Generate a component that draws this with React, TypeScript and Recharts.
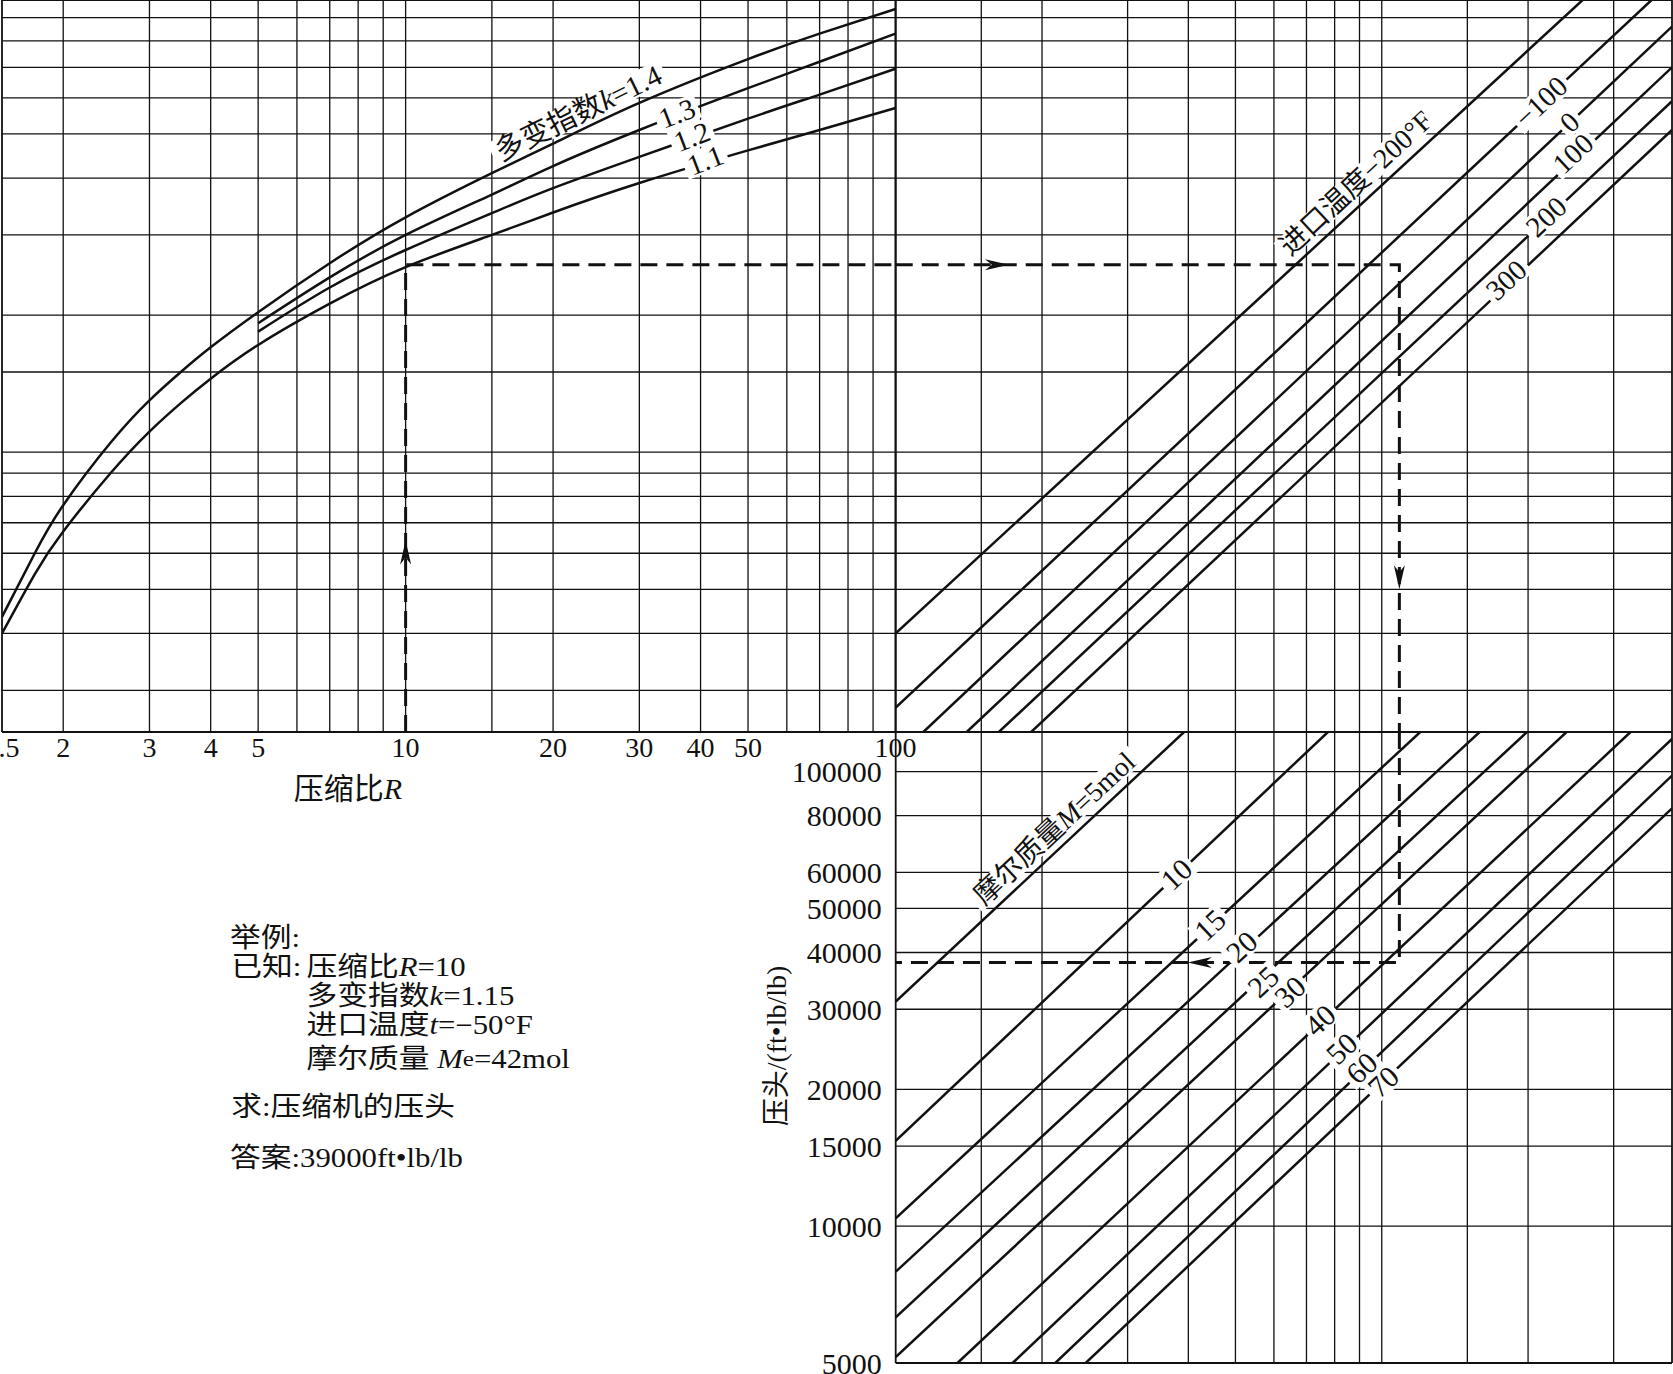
import React from "react";
import { ComposedChart, Line, XAxis, YAxis, ReferenceLine, ReferenceDot } from "recharts";

const W = 1673;
const H = 1374;
const FONT = '"Liberation Serif", "Noto Sans CJK SC", serif';
const INK = "#111";

// compression ratio axis (upper left)
const ratioDomain = [1.5, 100];
const ratioTicks = [1.5, 2, 3, 4, 5, 10, 20, 30, 40, 50, 100];
const ratioGrid = [2, 3, 4, 5, 6, 7, 8, 9, 10, 15, 20, 30, 40, 50, 60, 70, 80, 90];
// unlabelled intermediate scale shared by both upper panels
const midDomain = [0.243, 9.84];
const midGrid = [0.3, 0.4, 0.5, 0.6, 0.7, 0.8, 0.9, 1, 1.5, 2, 3, 4, 5, 6, 7, 8, 9];
// unlabelled scale shared by the two right panels
const auxDomain = [100, 3955];
const auxGrid = [150, 200, 300, 400, 500, 600, 700, 800, 900, 1000, 1500, 2000, 3000];
// head axis (lower right)
const headDomain = [5000, 122200];
const headTicks = [5000, 10000, 15000, 20000, 30000, 40000, 50000, 60000, 80000, 100000];
const headGrid = [10000, 15000, 20000, 30000, 40000, 50000, 60000, 80000, 100000];

// polytropic exponent curves, read at these ratios
const kRatio = [1.5, 1.75, 2, 2.5, 3, 3.5, 4, 5, 7, 10, 15, 20, 30, 50, 70, 100];
const k14 = [0.435, 0.6, 0.765, 1.05, 1.3, 1.51, 1.7, 2.03, 2.6, 3.28, 4.1, 4.76, 5.85, 7.3, 8.3, 9.4];
const k13 = [null, null, null, null, null, null, null, 1.92, 2.42, 3.0, 3.68, 4.25, 5.1, 6.3, 7.2, 8.3];
const k12 = [null, null, null, null, null, null, null, 1.84, 2.3, 2.78, 3.35, 3.8, 4.45, 5.4, 6.1, 6.95];
const k11 = [0.4, 0.54, 0.67, 0.9, 1.11, 1.29, 1.45, 1.72, 2.12, 2.55, 3.0, 3.36, 3.9, 4.6, 5.1, 5.7];
const kRows = kRatio.map((x, i) => ({ x, k14: k14[i], k13: k13[i], k12: k12[i], k11: k11[i] }));

// inlet temperature lines (°F), end points
const tempNames = ["−200", "−100", "0", "100", "200", "300"];
const tempFromAux = [100, 100, 114, 140, 163, 190];
const tempFromMid = [0.4, 0.275, 0.243, 0.243, 0.243, 0.243];
const tempToAux = [2590, 3590, 3955, 3955, 3955, 3955];
const tempToMid = [9.84, 9.84, 8.6, 7.0, 5.9, 5.1];

// molar mass lines, end points
const molMass = [5, 10, 15, 20, 25, 30, 40, 50, 60, 70];
const molFromAux = [100, 100, 100, 100, 100, 100, 134, 174, 213, 246];
const molFromHead = [31200, 15400, 10400, 7940, 6300, 5150, 5000, 5000, 5000, 5000];
const molToAux = [392, 775, 1200, 1590, 1990, 2400, 3250, 3955, 3955, 3955];
const molToHead = [122200, 122200, 122200, 122200, 122200, 122200, 122200, 118000, 98000, 83000];

// worked example: R=10, k=1.15, t=-50°F, M=42
const exRatio = 10;
const exMid = 2.58;
const exAux = 1087;
const exHead = 38000;

// where the line labels sit (data coordinates)
const tempTagAt = [[885, 3.9], [2125, 5.88], [2434, 5.31], [2472, 4.53], [2179, 3.29], [1803, 2.39]];
const molTagAt = [[212, 75000], [378, 59500], [443, 46000], [515, 41200], [570, 34500], [647, 32800], [746, 28400], [827, 24600], [909, 22300], [1007, 20800]];
const kTagAt = [[22.5, 5.56], [35.8, 5.55], [38.4, 4.93], [40.9, 4.38]];

type Box = { l: number; r: number; t: number; b: number };
const TOP_LEFT: Box = { l: 2, r: 895.5, t: 0, b: 732 };
const TOP_RIGHT: Box = { l: 895.7, r: 1672, t: 0, b: 732 };
const BOTTOM_RIGHT: Box = { l: 895.7, r: 1672, t: 732, b: 1363 };

function Panel({ box, xDomain, yDomain, xTicks, yTicks, children }: any) {
  const xh = xTicks ? 40 : 0;
  const yw = yTicks ? 140 : 0;
  return (
    <div style={{ position: "absolute", left: 0, top: 0, width: W, height: H }}>
      <ComposedChart
        width={W}
        height={H}
        margin={{ top: box.t, right: W - box.r, bottom: H - box.b - xh, left: box.l - yw }}
      >
        <XAxis
          dataKey="x"
          type="number"
          scale="log"
          domain={xDomain}
          allowDataOverflow
          hide={!xTicks}
          ticks={xTicks}
          interval={0}
          height={xh || 1}
          tickSize={0}
          tickMargin={5}
          axisLine={false}
          tickLine={false}
          tick={{ fontSize: 28, fill: INK, fontFamily: FONT }}
        />
        <YAxis
          type="number"
          scale="log"
          domain={yDomain}
          allowDataOverflow
          hide={!yTicks}
          ticks={yTicks}
          interval={0}
          width={yw || 1}
          tickSize={0}
          tickMargin={14}
          axisLine={false}
          tickLine={false}
          tick={{ fontSize: 30, fill: INK, fontFamily: FONT }}
        />
        {children}
      </ComposedChart>
    </div>
  );
}

const gridX = (vals: number[], w = 1.3) =>
  vals.map((v) => <ReferenceLine key={"gx" + v} x={v} stroke={INK} strokeWidth={w} />);
const gridY = (vals: number[], w = 1.3) =>
  vals.map((v) => <ReferenceLine key={"gy" + v} y={v} stroke={INK} strokeWidth={w} />);

const seg = (x1: number, y1: number, x2: number, y2: number) => [
  { x: x1, y: y1 },
  { x: x2, y: y2 },
];

function arrow(dir: number) {
  return (p: any) => (
    <path
      d="M0,0 L-24,-5.5 L-17,0 L-24,5.5 Z"
      transform={`translate(${p.cx},${p.cy}) rotate(${dir})`}
      fill={INK}
    />
  );
}

// rough advance widths (em) for sizing the white gap behind a label
function textEm(s: string) {
  let w = 0;
  for (const ch of s) {
    if (ch.charCodeAt(0) > 0x2e80) w += 1;
    else if (ch === ".") w += 0.25;
    else if (ch === "=" || ch === "−") w += 0.56;
    else if (ch === "°") w += 0.4;
    else if (ch === "m" || ch === "M") w += 0.85;
    else if (ch === "l") w += 0.28;
    else w += 0.5;
  }
  return w;
}

function tag(plain: string, content: React.ReactNode, angle: number, size = 28) {
  const w = textEm(plain) * size + 8;
  const h = size * 0.86;
  return (p: any) => (
    <g transform={`rotate(${angle} ${p.cx} ${p.cy})`}>
      <rect x={p.cx - w / 2} y={p.cy - h / 2} width={w} height={h} fill="#fff" />
      <text
        x={p.cx}
        y={p.cy}
        textAnchor="middle"
        dominantBaseline="central"
        fontSize={size}
        fontFamily={FONT}
        fill={INK}
      >
        {content}
      </text>
    </g>
  );
}

const dashed = { stroke: INK, strokeWidth: 3, strokeDasharray: "17 9" };
const solid = { stroke: INK, strokeWidth: 2.5 };

export default function App() {
  const kLabels = ["多变指数k=1.4", "1.3", "1.2", "1.1"];
  return (
    <div style={{ position: "absolute", left: 0, top: 0, width: W, height: H, background: "#fff" }}>
      {/* upper left: ratio vs k */}
      <Panel box={TOP_LEFT} xDomain={ratioDomain} yDomain={midDomain} xTicks={ratioTicks}>
        {gridX(ratioGrid)}
        {gridY(midGrid)}
        {gridX(ratioDomain, 1.8)}
        {gridY(midDomain, 1.8)}
        {["k14", "k13", "k12", "k11"].map((k) => (
          <Line key={k} data={kRows} dataKey={k} type="natural" {...solid} dot={false} isAnimationActive={false} />
        ))}
        <Line data={[{ x: exRatio, y: midDomain[0] }, { x: exRatio, y: exMid }, { x: 100, y: exMid }]} dataKey="y" type="linear" {...dashed} dot={false} isAnimationActive={false} />
        <ReferenceDot x={exRatio} y={0.64} r={1} shape={arrow(-90)} />
      </Panel>

      {/* upper right: inlet temperature */}
      <Panel box={TOP_RIGHT} xDomain={auxDomain} yDomain={midDomain}>
        {gridX(auxGrid)}
        {gridY(midGrid)}
        {gridX(auxDomain, 1.8)}
        {gridY(midDomain, 1.8)}
        {tempNames.map((n, i) => (
          <Line key={n} data={seg(tempFromAux[i], tempFromMid[i], tempToAux[i], tempToMid[i])} dataKey="y" type="linear" {...solid} dot={false} isAnimationActive={false} />
        ))}
        <Line data={[{ x: 100, y: exMid }, { x: exAux, y: exMid }, { x: exAux, y: midDomain[0] }]} dataKey="y" type="linear" {...dashed} dot={false} isAnimationActive={false} />
        <ReferenceDot x={171} y={exMid} r={1} shape={arrow(0)} />
        <ReferenceDot x={exAux} y={0.5} r={1} shape={arrow(90)} />
      </Panel>

      {/* lower right: molar mass → head */}
      <Panel box={BOTTOM_RIGHT} xDomain={auxDomain} yDomain={headDomain} yTicks={headTicks}>
        {gridX(auxGrid)}
        {gridY(headGrid)}
        {gridX(auxDomain, 1.8)}
        {gridY(headDomain, 1.8)}
        {molMass.map((m, i) => (
          <Line key={m} data={seg(molFromAux[i], molFromHead[i], molToAux[i], molToHead[i])} dataKey="y" type="linear" {...solid} dot={false} isAnimationActive={false} />
        ))}
        <Line data={[{ x: exAux, y: headDomain[1] }, { x: exAux, y: exHead }, { x: 100, y: exHead }]} dataKey="y" type="linear" {...dashed} dot={false} isAnimationActive={false} />
        <ReferenceDot x={399} y={exHead} r={1} shape={arrow(180)} />
      </Panel>

      {/* line labels, drawn on top with a white gap */}
      <Panel box={TOP_LEFT} xDomain={ratioDomain} yDomain={midDomain}>
        {kTagAt.map(([x, y], i) => (
          <ReferenceDot
            key={i}
            x={x}
            y={y}
            r={1}
            shape={tag(
              kLabels[i],
              i === 0 ? (
                <>
                  多变指数<tspan fontStyle="italic">k</tspan>=1.4
                </>
              ) : (
                kLabels[i]
              ),
              i === 0 ? -26 : -21,
              29
            )}
          />
        ))}
      </Panel>
      <Panel box={TOP_RIGHT} xDomain={auxDomain} yDomain={midDomain}>
        {tempTagAt.map(([x, y], i) => {
          const s = i === 0 ? `进口温度${tempNames[0]}°F` : tempNames[i];
          return <ReferenceDot key={i} x={x} y={y} r={1} shape={tag(s, s, -43, i === 0 ? 28 : 29)} />;
        })}
      </Panel>
      <Panel box={BOTTOM_RIGHT} xDomain={auxDomain} yDomain={headDomain}>
        {molTagAt.map(([x, y], i) => (
          <ReferenceDot
            key={i}
            x={x}
            y={y}
            r={1}
            shape={tag(
              i === 0 ? "摩尔质量M=5mol" : String(molMass[i]),
              i === 0 ? (
                <>
                  摩尔质量<tspan fontStyle="italic">M</tspan>=5mol
                </>
              ) : (
                String(molMass[i])
              ),
              -43,
              i === 0 ? 28 : 30
            )}
          />
        ))}
      </Panel>

      {/* titles and worked example */}
      <svg width={W} height={H} style={{ position: "absolute", left: 0, top: 0 }} fontFamily={FONT} fill={INK}>
        <text x={348} y={788} fontSize={30} textAnchor="middle" dominantBaseline="central">
          压缩比<tspan fontStyle="italic">R</tspan>
        </text>
        <text
          x={776}
          y={1046}
          fontSize={28}
          textAnchor="middle"
          dominantBaseline="central"
          transform="rotate(-90 776 1046)"
        >
          压头/(ft•lb/lb)
        </text>
        <g fontSize={27} dominantBaseline="central" transform="translate(230 0) scale(1.14 1) translate(-230 0)">
          <text x={230} y={938}>举例:</text>
          <text x={231} y={967}>
            已知:<tspan x={297}>压缩比</tspan>
            <tspan fontStyle="italic">R</tspan>=10
          </text>
          <text x={297} y={996}>
            多变指数<tspan fontStyle="italic">k</tspan>=1.15
          </text>
          <text x={297} y={1025}>
            进口温度<tspan fontStyle="italic">t</tspan>=−50°F
          </text>
          <text x={297} y={1059}>
            摩尔质量 <tspan fontStyle="italic">M</tspan>
            <tspan fontSize={22}>e</tspan>=42mol
          </text>
          <text x={231} y={1107}>求:压缩机的压头</text>
          <text x={230} y={1158}>答案:39000ft•lb/lb</text>
        </g>
      </svg>
    </div>
  );
}
